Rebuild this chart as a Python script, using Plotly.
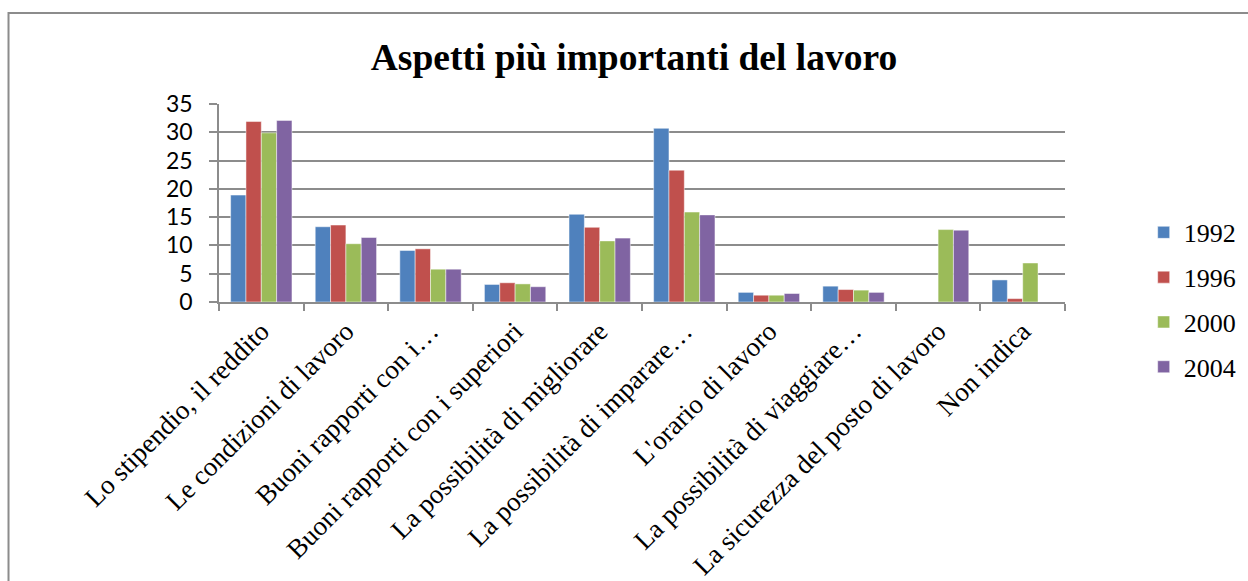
import plotly.graph_objects as go

# Categorie (asse x) e valori
categorie = [
    "Lo stipendio, il reddito",
    "Le condizioni di lavoro",
    "Buoni rapporti con i…",
    "Buoni rapporti con i superiori",
    "La possibilità di migliorare",
    "La possibilità di imparare…",
    "L'orario di lavoro",
    "La possibilità di viaggiare…",
    "La sicurezza del posto di lavoro",
    "Non indica",
]
anni = ["1992", "1996", "2000", "2004"]

valori_1992 = [18.9, 13.3, 9.1, 3.1, 15.5, 30.7, 1.7, 2.8, None, 3.9]
valori_1996 = [31.9, 13.6, 9.4, 3.4, 13.2, 23.3, 1.2, 2.2, None, 0.6]
valori_2000 = [29.9, 10.3, 5.8, 3.2, 10.8, 15.9, 1.2, 2.1, 12.8, 6.9]
valori_2004 = [32.1, 11.4, 5.8, 2.7, 11.3, 15.4, 1.5, 1.7, 12.7, None]

colori = ["#4F81BD", "#C0504D", "#9BBB59", "#8064A2"]

fig = go.Figure()
for anno, valori, colore in zip(anni, [valori_1992, valori_1996, valori_2000, valori_2004], colori):
    fig.add_trace(go.Bar(
        x=categorie, y=valori, name=anno, legendgroup=anno,
        marker=dict(color=colore, line=dict(color="rgba(255,255,255,0.6)", width=0.8)),
    ))

fig.update_layout(
    width=1248, height=581,
    margin=dict(l=219, r=183, t=104, b=279, autoexpand=False),
    paper_bgcolor="white", plot_bgcolor="white",
    barmode="group", bargap=0.275, bargroupgap=0,
    title=dict(
        text="<b>Aspetti più importanti del lavoro</b>",
        font=dict(family="Liberation Serif", size=37.5, color="black"),
        xref="container", x=0.508, xanchor="center",
        yref="container", y=0.9019, yanchor="middle",
    ),
    legend=dict(
        x=1.093, xanchor="left", y=0.47, yanchor="top",
        font=dict(family="Liberation Serif", size=26, color="black"),
        tracegroupgap=8, itemwidth=30,
    ),
    showlegend=True,
)

fig.update_yaxes(
    range=[0, 35], dtick=5, automargin=False,
    showgrid=True, gridcolor="#8C8C8C", gridwidth=1.5,
    showline=True, linecolor="#8C8C8C", linewidth=1.5,
    ticks="outside", ticklen=8, tickcolor="#8C8C8C", tickwidth=1.5,
    ticklabelstandoff=12,
    tickfont=dict(family="Lato", size=23, color="black"),
    zeroline=False,
)
fig.update_xaxes(
    automargin=False,
    showline=True, linecolor="#8C8C8C", linewidth=1.5,
    ticks="outside", ticklen=7, tickcolor="#8C8C8C", tickwidth=1.5,
    tickson="boundaries", tickangle=-45, ticklabelstandoff=1,
    tickfont=dict(family="Liberation Serif", size=27, color="black"),
)

# cornice del grafico
fig.add_shape(
    type="rect", xref="paper", yref="paper",
    x0=-0.2488, x1=1.25, y0=-1.6, y1=1.4596,
    line=dict(color="#8C8C8C", width=2), fillcolor="rgba(0,0,0,0)", layer="below",
)

# niente margine della pagina, così la figura occupa tutta la finestra
fig.write_html(
    "out.html",
    config={"displayModeBar": False},
    post_script="document.body.style.margin = '0';",
)
